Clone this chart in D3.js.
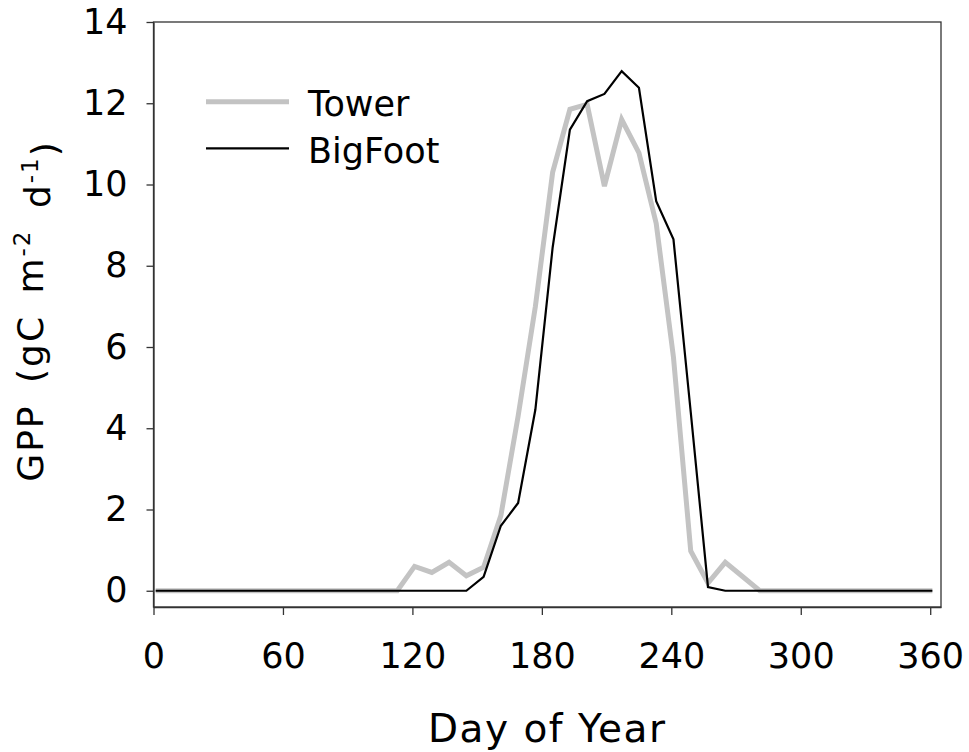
<!DOCTYPE html>
<html>
<head>
<meta charset="utf-8">
<script src="https://cdn.jsdelivr.net/npm/d3@7"></script>
<style>
  body { margin: 0; background: #fff; }
  svg { display: block; font-family: "DejaVu Sans", Verdana, sans-serif; }
  .axis path, .axis line { stroke: #333; stroke-width: 1.3; }
  .axis text { font-size: 35px; fill: #000; font-family: "DejaVu Sans", Verdana, sans-serif; }
</style>
</head>
<body>
<div id="graph"></div>
<script>
// Jours (composites de 8 jours)
var jours = [1, 9, 17, 25, 33, 41, 49, 57, 65, 73, 81, 89, 97, 105, 113, 121,
  129, 137, 145, 153, 161, 169, 177, 185, 193, 201, 209, 217, 225, 233, 241,
  249, 257, 265, 273, 281, 289, 297, 305, 313, 321, 329, 337, 345, 353, 361];

// GPP mesurée par la tour
var tower = [0, 0, 0, 0, 0, 0, 0, 0, 0, 0, 0, 0, 0, 0, 0, 0.6,
  0.45, 0.7, 0.37, 0.58, 1.85, 4.3, 7.0, 10.3, 11.85, 11.97, 9.96, 11.6, 10.78, 9.04, 5.75,
  0.98, 0.19, 0.7, 0.35, 0, 0, 0, 0, 0, 0, 0, 0, 0, 0, 0];

// GPP estimée par BigFoot
var bigfoot = [0, 0, 0, 0, 0, 0, 0, 0, 0, 0, 0, 0, 0, 0, 0, 0,
  0, 0, 0, 0.34, 1.6, 2.16, 4.46, 8.45, 11.35, 12.05, 12.23, 12.79, 12.38, 9.59, 8.65,
  4.4, 0.09, 0, 0, 0, 0, 0, 0, 0, 0, 0, 0, 0, 0, 0];

var ticksX = [0, 60, 120, 180, 240, 300, 360];
var ticksY = [0, 2, 4, 6, 8, 10, 12, 14];

var series = [
  { nom: "Tower", valeurs: tower, couleur: "#c3c3c3", epaisseur: 5 },
  { nom: "BigFoot", valeurs: bigfoot, couleur: "#000", epaisseur: 2.2 }
];

// Marges et taille du graphique
var marges = {haut: 22, droit: 28, bas: 145, gauche: 153.5},
    largeurTotale = 969,
    hauteurTotale = 752,
    largeurInterne = largeurTotale - marges.gauche - marges.droit,
    hauteurInterne = hauteurTotale - marges.haut - marges.bas;

var echelleX = d3.scaleLinear()
    .domain([0, 365])
    .range([0, largeurInterne]);

var echelleY = d3.scaleLinear()
    .domain([-0.4, 14])
    .range([hauteurInterne, 0]);

var svg = d3.select("#graph").append("svg")
    .attr("width", largeurTotale)
    .attr("height", hauteurTotale);

var graphique = svg.append("g")
    .attr("transform", "translate(" + marges.gauche + "," + marges.haut + ")");

// Cadre
graphique.append("rect")
    .attr("width", largeurInterne)
    .attr("height", hauteurInterne)
    .attr("fill", "none")
    .attr("stroke", "#333")
    .attr("stroke-width", 1.3);

// Axes
graphique.append("g")
    .attr("class", "x axis")
    .attr("transform", "translate(0," + hauteurInterne + ")")
    .call(d3.axisBottom(echelleX).tickValues(ticksX).tickSize(8).tickSizeOuter(0).tickPadding(28));

graphique.append("g")
    .attr("class", "y axis")
    .call(d3.axisLeft(echelleY).tickValues(ticksY).tickSize(7).tickSizeOuter(0).tickPadding(19));

// Courbes
var ligne = d3.line()
    .x(function(d, i) { return echelleX(jours[i]); })
    .y(function(d) { return echelleY(d); });

graphique.selectAll(".serie")
  .data(series)
  .enter()
  .append("path")
  .attr("class", "serie")
  .attr("fill", "none")
  .attr("stroke", function(d) { return d.couleur; })
  .attr("stroke-width", function(d) { return d.epaisseur; })
  .attr("stroke-linejoin", "miter")
  .attr("d", function(d) { return ligne(d.valeurs); });

// Légende
var legende = svg.selectAll(".legende")
  .data(series)
  .enter()
  .append("g")
  .attr("class", "legende")
  .attr("transform", function(d, i) { return "translate(206," + (101.7 + i * 46.6) + ")"; });

legende.append("line")
    .attr("x1", 0).attr("x2", 83)
    .attr("stroke", function(d) { return d.couleur; })
    .attr("stroke-width", function(d) { return d.epaisseur; });

legende.append("text")
    .attr("x", 102)
    .attr("y", 14.5)
    .style("font-size", "35px")
    .text(function(d) { return d.nom; });

// Titres des axes
svg.append("text")
    .attr("x", marges.gauche + largeurInterne / 2)
    .attr("y", 742)
    .style("text-anchor", "middle")
    .style("font-size", "39px")
    .style("letter-spacing", "1.5px")
    .text("Day of Year");

var titreY = svg.append("text")
    .attr("transform", "translate(43,311) rotate(-90)")
    .style("text-anchor", "middle")
    .style("font-size", "36px")
    .style("letter-spacing", "2px")
    .style("word-spacing", "8px");
titreY.append("tspan").text("GPP (gC m");
titreY.append("tspan").attr("dy", "-0.55em").style("font-size", "23px").text("-2");
titreY.append("tspan").attr("dy", "0.55em").text(" d");
titreY.append("tspan").attr("dy", "-0.55em").style("font-size", "23px").text("-1");
titreY.append("tspan").attr("dy", "0.55em").text(")");
</script>
</body>
</html>
